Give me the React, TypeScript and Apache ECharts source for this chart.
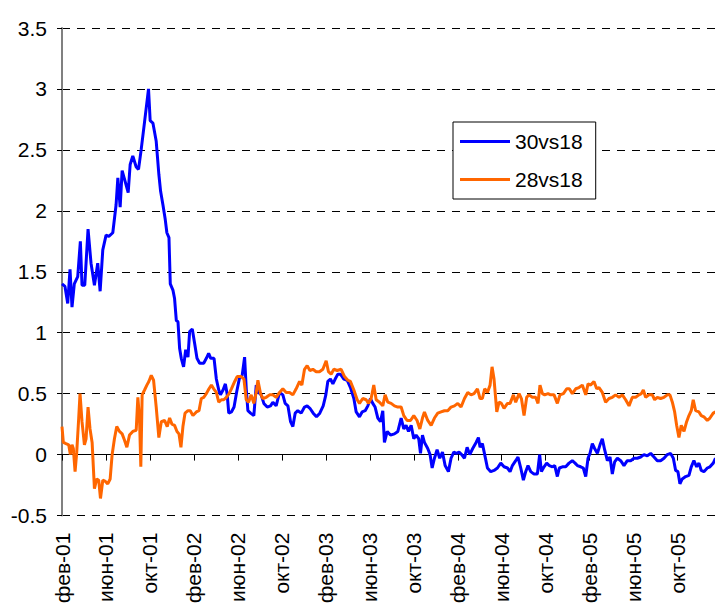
import React, { useEffect, useRef } from "react";
import * as echarts from "echarts";

const FONT = "'Liberation Sans', Arial, sans-serif";

const xLabels = [
  "фев-01", "июн-01", "окт-01", "фев-02", "июн-02", "окт-02", "фев-03", "июн-03",
  "окт-03", "фев-04", "июн-04", "окт-04", "фев-05", "июн-05", "окт-05",
];
const seriesNames = ["30vs18", "28vs18"];

// x = months since фев-01
const blueMonths = [
  0, 0.27, 0.52, 0.73, 0.91, 1.12, 1.43, 1.67, 1.82, 2.07, 2.37, 2.64, 2.95, 3.25, 3.47, 3.71,
  4.01, 4.26, 4.62, 4.92, 5.08, 5.29, 5.47, 5.78, 6.02, 6.2, 6.44, 6.75, 6.96, 7.2, 7.51, 7.87,
  8.02, 8.27, 8.57, 8.81, 8.97, 9.18, 9.39, 9.54, 9.73, 9.85, 10.09, 10.24, 10.4, 10.55, 10.7,
  10.85, 11.06, 11.25, 11.46, 11.61, 11.85, 12.07, 12.28, 12.52, 12.89, 13.13, 13.34, 13.53,
  13.83, 14.04, 14.26, 14.41, 14.65, 14.86, 15.02, 15.17, 15.41, 15.65, 15.9, 16.15, 16.39,
  16.61, 16.76, 16.91, 17.15, 17.45, 17.67, 17.88, 18.12, 18.36, 18.67, 18.97, 19.18, 19.48,
  19.79, 20.09, 20.3, 20.55, 20.79, 21.0, 21.21, 21.45, 21.76, 22.06, 22.3, 22.55, 22.85, 23.15,
  23.45, 23.76, 24.0, 24.18, 24.42, 24.64, 24.85, 25.09, 25.33, 25.64, 25.94, 26.24, 26.55,
  26.76, 27.06, 27.3, 27.58, 27.82, 28.06, 28.27, 28.48, 28.73, 28.97, 29.18, 29.33, 29.58,
  29.88, 30.24, 30.55, 30.85, 31.09, 31.3, 31.52, 31.76, 32.0, 32.21, 32.45, 32.61, 32.79,
  32.97, 33.27, 33.48, 33.67, 33.88, 34.12, 34.36, 34.61, 34.85, 35.15, 35.39, 35.64, 35.88,
  36.12, 36.36, 36.61, 36.85, 37.09, 37.36, 37.67, 37.88, 38.03, 38.24, 38.45, 38.7, 39.0,
  39.3, 39.61, 39.91, 40.21, 40.52, 40.76, 40.97, 41.27, 41.48, 41.73, 41.97, 42.18, 42.39,
  42.64, 42.94, 43.24, 43.45, 43.61, 43.85, 44.09, 44.33, 44.61, 44.82, 45.06, 45.24, 45.52,
  45.82, 46.12, 46.42, 46.67, 46.88, 47.18, 47.42, 47.64, 47.85, 48.03, 48.24, 48.45, 48.7,
  48.94, 49.15, 49.36, 49.61, 49.85, 50.06, 50.27, 50.52, 50.82, 51.12, 51.42, 51.73, 52.03,
  52.33, 52.64, 52.94, 53.24, 53.55, 53.85, 54.15, 54.45, 54.76, 55.06, 55.36, 55.61, 55.82,
  56.03, 56.21, 56.42, 56.73, 57.03, 57.24, 57.48, 57.73, 57.94, 58.15, 58.39, 58.7, 58.94,
  59.24, 59.45,
];
const blueValues = [
  1.4, 1.38, 1.24, 1.52, 1.21, 1.4, 1.46, 1.75, 1.39, 1.39, 1.85, 1.57, 1.39, 1.57, 1.34, 1.68,
  1.8, 1.79, 1.82, 2.05, 2.27, 2.03, 2.33, 2.23, 2.15, 2.38, 2.45, 2.36, 2.34, 2.5, 2.73, 3.0,
  2.74, 2.72, 2.57, 2.3, 2.16, 2.05, 1.93, 1.82, 1.78, 1.4, 1.35, 1.28, 1.1, 1.09, 0.87,
  0.79, 0.72, 0.86, 0.8, 1.01, 1.03, 0.91, 0.79, 0.75, 0.75, 0.79, 0.83, 0.79,
  0.79, 0.62, 0.53, 0.49, 0.53, 0.58, 0.5, 0.34, 0.35, 0.39, 0.52, 0.63, 0.65,
  0.8, 0.54, 0.36, 0.34, 0.32, 0.57, 0.51, 0.49, 0.42, 0.39, 0.4, 0.43, 0.4,
  0.51, 0.49, 0.42, 0.4, 0.27, 0.23, 0.34, 0.36, 0.34, 0.39, 0.4, 0.38, 0.34, 0.31,
  0.34, 0.4, 0.49, 0.6, 0.62, 0.58, 0.62, 0.66, 0.66, 0.62, 0.61, 0.55, 0.46,
  0.35, 0.31, 0.35, 0.36, 0.4, 0.46, 0.42, 0.39, 0.3, 0.27, 0.36, 0.1, 0.19,
  0.16, 0.17, 0.19, 0.3, 0.21, 0.24, 0.19, 0.24, 0.13, 0.16, 0.13, 0.01, 0.16,
  0.1, 0.05, 0.0, -0.11, -0.03, 0.04, -0.03, 0.02, -0.09, -0.14, -0.03, 0.02, 0.01,
  0.02, 0.0, -0.03, 0.06, 0.0, 0.05, 0.1, 0.14, 0.06, 0.09, 0.0, -0.11, -0.14,
  -0.13, -0.11, -0.07, -0.1, -0.11, -0.14, -0.09, -0.05, -0.02, -0.11, -0.21, -0.14, -0.09,
  -0.14, -0.16, -0.16, 0.0, -0.14, -0.1, -0.07, -0.09, -0.1, -0.09, -0.18, -0.11, -0.1,
  -0.1, -0.07, -0.05, -0.07, -0.09, -0.1, -0.11, -0.18, -0.03, 0.01, 0.09, 0.05, 0.01,
  0.08, 0.13, 0.04, -0.05, -0.02, -0.16, -0.06, -0.03, -0.05, -0.09, -0.05, -0.05, -0.03,
  -0.03, -0.02, 0.0, -0.01, 0.01, -0.02, -0.05, -0.05, -0.03, 0.0, 0.01, -0.03, -0.13,
  -0.14, -0.24, -0.2, -0.18, -0.17, -0.1, -0.05, -0.1, -0.07, -0.13, -0.14, -0.11, -0.1,
  -0.07, -0.03,
];

const orangeMonths = [
  0, 0.12, 0.36, 0.61, 0.76, 0.91, 1.03, 1.19, 1.34, 1.52, 1.64, 1.82, 2.04, 2.19, 2.37, 2.55,
  2.74, 2.95, 3.16, 3.34, 3.5, 3.71, 3.95, 4.16, 4.38, 4.56, 4.77, 4.98, 5.23, 5.47, 5.68, 5.9,
  6.14, 6.44, 6.75, 6.9, 7.05, 7.17, 7.29, 7.51, 7.72, 7.9, 8.12, 8.33, 8.57, 8.81, 9.03, 9.33,
  9.57, 9.79, 10.0, 10.24, 10.46, 10.64, 10.82, 11.0, 11.19, 11.46, 11.67, 11.91, 12.22, 12.46,
  12.67, 12.89, 13.13, 13.37, 13.59, 13.8, 14.04, 14.26, 14.5, 14.71, 14.95, 15.2, 15.41, 15.71,
  15.93, 16.3, 16.55, 16.76, 16.97, 17.21, 17.45, 17.67, 17.82, 18.06, 18.27, 18.58, 18.88,
  19.18, 19.48, 19.79, 20.09, 20.39, 20.7, 21.0, 21.3, 21.61, 21.82, 22.06, 22.3, 22.55, 22.82,
  23.12, 23.42, 23.73, 24.03, 24.24, 24.48, 24.73, 25.03, 25.39, 25.7, 26.0, 26.24, 26.55,
  26.85, 27.06, 27.36, 27.67, 27.88, 28.12, 28.36, 28.58, 28.88, 29.18, 29.39, 29.64, 29.94,
  30.24, 30.55, 30.85, 31.09, 31.39, 31.7, 32.0, 32.3, 32.55, 32.79, 32.97, 33.27, 33.58,
  33.88, 34.18, 34.48, 34.79, 35.09, 35.39, 35.7, 36.0, 36.3, 36.61, 36.91, 37.21, 37.48,
  37.79, 38.03, 38.24, 38.45, 38.7, 38.94, 39.12, 39.3, 39.55, 39.76, 39.97, 40.21, 40.52,
  40.76, 41.06, 41.27, 41.58, 41.79, 42.03, 42.27, 42.48, 42.79, 43.09, 43.3, 43.48, 43.7,
  43.91, 44.21, 44.45, 44.76, 45.06, 45.3, 45.61, 45.91, 46.15, 46.42, 46.73, 47.03, 47.33,
  47.64, 47.85, 48.09, 48.39, 48.64, 48.85, 49.15, 49.45, 49.76, 50.06, 50.36, 50.67, 50.97,
  51.27, 51.58, 51.88, 52.18, 52.48, 52.7, 52.88, 53.09, 53.39, 53.7, 53.91, 54.15, 54.45,
  54.76, 55.06, 55.3, 55.52, 55.73, 55.91, 56.12, 56.33, 56.58, 56.82, 57.03, 57.24, 57.42,
  57.64, 57.94, 58.15, 58.39, 58.7, 58.94, 59.24, 59.45,
];
const orangeValues = [
  0.23, 0.1, 0.09, 0.08, 0.0, 0.08, 0.05, -0.14, 0.02, 0.3, 0.5, 0.27, 0.08, 0.13, 0.39, 0.21,
  0.1, -0.28, -0.2, -0.21, -0.36, -0.21, -0.22, -0.24, -0.2, 0.0, 0.13, 0.23, 0.19, 0.17, 0.12, 0.06,
  0.16, 0.19, 0.2, 0.47, 0.3, -0.1, 0.49, 0.53, 0.57, 0.6, 0.65, 0.61, 0.39, 0.14, 0.27, 0.28,
  0.23, 0.3, 0.25, 0.24, 0.19, 0.17, 0.06, 0.23, 0.34, 0.36, 0.36, 0.32, 0.35, 0.36,
  0.46, 0.47, 0.5, 0.54, 0.57, 0.54, 0.51, 0.43, 0.45, 0.45, 0.47, 0.5, 0.54, 0.6,
  0.64, 0.64, 0.62, 0.45, 0.43, 0.49, 0.42, 0.51, 0.61, 0.5, 0.46, 0.47, 0.49,
  0.49, 0.47, 0.51, 0.54, 0.51, 0.51, 0.49, 0.54, 0.6, 0.57, 0.7, 0.73, 0.69, 0.7,
  0.68, 0.68, 0.7, 0.77, 0.68, 0.66, 0.7, 0.69, 0.7, 0.64, 0.61, 0.6, 0.53,
  0.45, 0.42, 0.46, 0.45, 0.42, 0.46, 0.57, 0.45, 0.43, 0.4, 0.49, 0.43, 0.42,
  0.4, 0.39, 0.39, 0.32, 0.28, 0.28, 0.32, 0.28, 0.21, 0.3, 0.35, 0.28, 0.24,
  0.3, 0.34, 0.35, 0.36, 0.36, 0.39, 0.4, 0.42, 0.39, 0.46, 0.51, 0.49, 0.5,
  0.54, 0.46, 0.46, 0.54, 0.51, 0.57, 0.72, 0.62, 0.35, 0.43, 0.42, 0.38, 0.42,
  0.42, 0.49, 0.43, 0.5, 0.46, 0.32, 0.47, 0.49, 0.47, 0.47, 0.42, 0.57, 0.5,
  0.49, 0.5, 0.49, 0.49, 0.42, 0.49, 0.5, 0.54, 0.54, 0.5, 0.54, 0.55, 0.57,
  0.49, 0.58, 0.57, 0.6, 0.54, 0.55, 0.51, 0.43, 0.46, 0.47, 0.49, 0.47, 0.49,
  0.45, 0.4, 0.47, 0.47, 0.49, 0.5, 0.53, 0.47, 0.49, 0.49, 0.45, 0.47, 0.46,
  0.47, 0.49, 0.49, 0.43, 0.35, 0.24, 0.14, 0.24, 0.19, 0.27, 0.32, 0.36, 0.45,
  0.36, 0.35, 0.32, 0.31, 0.28, 0.3, 0.34, 0.35,
];

const seriesColors = ["#0000FF", "#FF6600"];

function zip(xs: number[], ys: number[]) {
  return xs.map((x, i) => [x, ys[i]]);
}

export default function App() {
  const ref = useRef<HTMLDivElement>(null);
  useEffect(() => {
    if (!ref.current) return;
    const chart = echarts.init(ref.current, null, { renderer: "svg" });
    chart.setOption({
      animation: false,
      backgroundColor: "#fff",
      textStyle: { fontFamily: FONT },
      grid: { left: 62, right: 0, top: 28, bottom: 88, containLabel: false },
      legend: {
        show: true,
        orient: "vertical",
        left: 453,
        top: 122,
        itemWidth: 50,
        itemHeight: 3,
        itemGap: 15,
        padding: [8, 13, 8, 7],
        borderColor: "#000",
        borderWidth: 1,
        backgroundColor: "#fff",
        icon: "rect",
        textStyle: { fontSize: 21, color: "#000", lineHeight: 23, fontFamily: FONT },
        data: seriesNames,
      },
      xAxis: {
        type: "value",
        min: 0,
        max: 59.4,
        interval: 4,
        axisLine: { show: true, lineStyle: { color: "#000", width: 1 } },
        axisTick: { show: true, length: 6, lineStyle: { color: "#000" } },
        splitLine: { show: false },
        axisLabel: {
          rotate: 90,
          fontSize: 21,
          color: "#000",
          fontFamily: FONT,
          margin: 17,
          showMaxLabel: false,
          formatter: (v: number) => {
            const k = Math.round(v);
            return k % 4 === 0 && Math.abs(v - k) < 1e-6 ? xLabels[k / 4] ?? "" : "";
          },
        },
      },
      yAxis: {
        type: "value",
        min: -0.5,
        max: 3.5,
        interval: 0.5,
        axisLine: { show: true, lineStyle: { color: "#808080", width: 2 } },
        axisTick: { show: true, length: 5, lineStyle: { color: "#000" } },
        splitLine: { show: true, lineStyle: { color: "#000", type: [8, 7], width: 1 } },
        axisLabel: { fontSize: 21, color: "#000", fontFamily: FONT, margin: 15 },
      },
      series: [
        {
          name: seriesNames[0],
          type: "line",
          data: zip(blueMonths, blueValues),
          showSymbol: false,
          lineStyle: { width: 3, color: seriesColors[0] },
          itemStyle: { color: seriesColors[0] },
        },
        {
          name: seriesNames[1],
          type: "line",
          data: zip(orangeMonths, orangeValues),
          showSymbol: false,
          lineStyle: { width: 3, color: seriesColors[1] },
          itemStyle: { color: seriesColors[1] },
        },
      ],
    });
    return () => chart.dispose();
  }, []);
  return (
    <div
      ref={ref}
      style={{ position: "fixed", left: 0, top: 0, width: 715, height: 606, background: "#fff" }}
    />
  );
}
